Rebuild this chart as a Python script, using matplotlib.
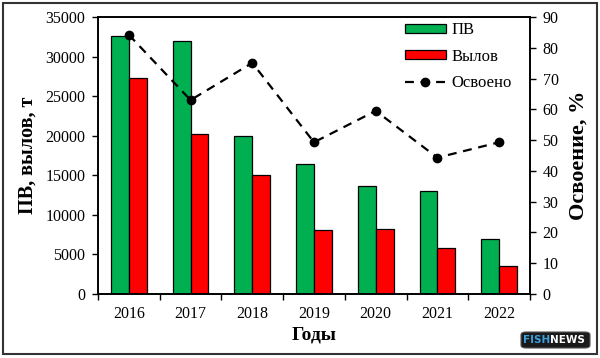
import matplotlib
matplotlib.use("Agg")
import matplotlib.pyplot as plt
import numpy as np
from matplotlib.patches import Rectangle, FancyBboxPatch
from matplotlib.lines import Line2D

years = ["2016", "2017", "2018", "2019", "2020", "2021", "2022"]
pv = [32600, 32000, 20000, 16400, 13700, 13000, 7000]
catch = [27300, 20200, 15000, 8100, 8200, 5800, 3500]
usage = [84.2, 63.0, 75.1, 49.3, 59.5, 44.3, 49.3]

plt.rcParams['font.family'] = ['Liberation Serif', 'DejaVu Serif']

fig = plt.figure(figsize=(6.0, 3.58), dpi=100)
ax = fig.add_axes([98/600, 1-294/358, (530-98)/600, (294-17)/358])
ax2 = ax.twinx()

x = np.arange(len(years))
w = 0.29
ax.bar(x - w/2, pv, w, color='#00B050', edgecolor='black', linewidth=0.9, label='ПВ', zorder=2)
ax.bar(x + w/2, catch, w, color='#FF0000', edgecolor='black', linewidth=0.9, label='Вылов', zorder=2)
ax2.plot(x, usage, color='black', linestyle=(0, (4, 3)), linewidth=1.6, marker='o', markersize=6, label='Освоено')

ax.set_xlim(-0.5, len(years) - 0.5)
ax.set_ylim(0, 35000)
ax.set_yticks(np.arange(0, 35001, 5000))
ax2.set_ylim(0, 90)
ax2.set_yticks(np.arange(0, 91, 10))

ax.set_xticks(x)
ax.set_xticklabels(years)
ax.set_xticks(np.arange(-0.5, len(years), 1), minor=True)
ax.tick_params(axis='x', which='major', length=0, pad=9, labelsize=11.5)
ax.tick_params(axis='x', which='minor', length=4, width=1, direction='out')
ax.tick_params(axis='y', length=4, width=1, direction='out', labelsize=11.5, pad=5)
ax2.tick_params(axis='y', length=4, width=1, direction='out', labelsize=11.5, pad=5)

for a in (ax, ax2):
    for s in a.spines.values():
        s.set_linewidth(1.2)

ax.set_ylabel('ПВ, вылов, т', fontsize=14.5, fontweight='bold', labelpad=6)
ax2.set_ylabel('Освоение, %', fontsize=16, fontweight='bold', labelpad=7)
ax.set_xlabel('Годы', fontsize=14, fontweight='bold', labelpad=3)

handles = [
    Rectangle((0, 0), 1, 1, facecolor='#00B050', edgecolor='black', linewidth=0.9),
    Rectangle((0, 0), 1, 1, facecolor='#FF0000', edgecolor='black', linewidth=0.9),
    Line2D([0], [0], color='black', linestyle=(0, (4, 3)), linewidth=1.6, marker='o', markersize=6),
]
leg = ax2.legend(handles, ['ПВ', 'Вылов', 'Освоено'], loc='upper right',
                 bbox_to_anchor=(0.992, 1.035), frameon=False, fontsize=12,
                 handlelength=2.5, handleheight=0.5, labelspacing=0.62, handletextpad=0.3)

# outer border
fig.patches.append(Rectangle((3/600, 4/358), 594/600, 351/358, transform=fig.transFigure,
                             fill=False, edgecolor='#333333', linewidth=1.5))

# watermark logo
fig.patches.append(FancyBboxPatch((521/600, 1-348/358), 69/600, 16/358,
                                  boxstyle='round,pad=0.0,rounding_size=0.008',
                                  transform=fig.transFigure, facecolor='#1a1a1a',
                                  edgecolor='#555555', linewidth=0.8))
fig.text(537/600, 1-340/358, 'FISH', color='#3aa0e0', fontsize=7.5, fontweight='bold',
         family='DejaVu Sans', ha='center', va='center')
fig.text(567/600, 1-340/358, 'NEWS', color='white', fontsize=7.5, fontweight='bold',
         family='DejaVu Sans', ha='center', va='center')

fig.savefig('out.png', dpi=100)
